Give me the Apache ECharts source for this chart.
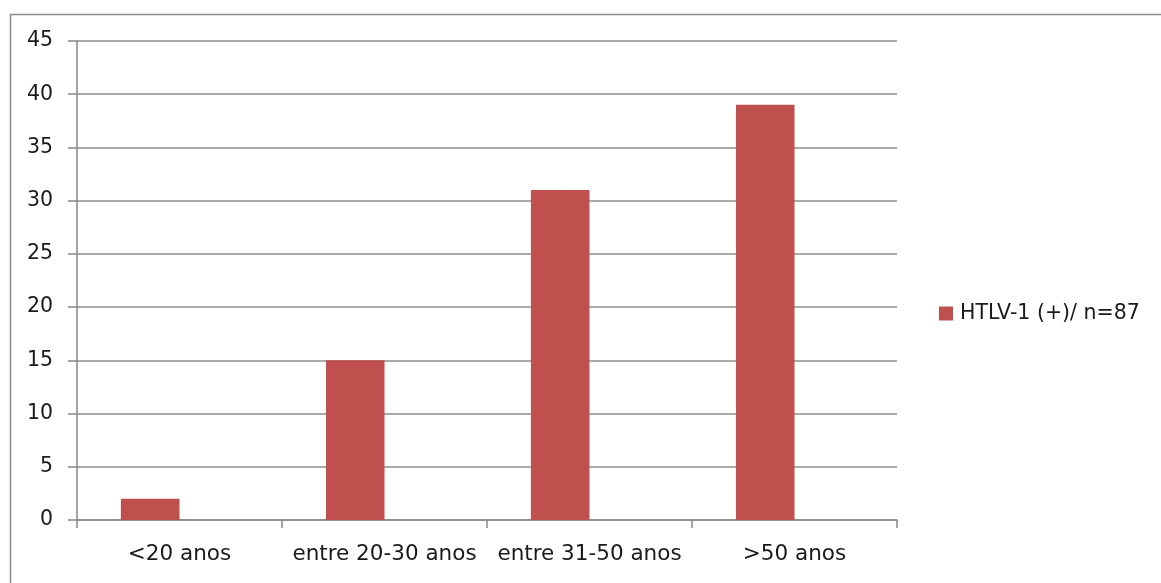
<!DOCTYPE html>
<html>
<head>
<meta charset="utf-8">
<script src="https://cdn.jsdelivr.net/npm/echarts@6/dist/echarts.min.js"></script>
<style>
html,body{margin:0;padding:0;background:#fff;}
#chart{width:1161px;height:583px;}
</style>
</head>
<body>
<div id="chart"></div>
<script>
const categories = ['<20 anos', 'entre 20-30 anos', 'entre 31-50 anos', '>50 anos'];
const seriesName = 'HTLV-1 (+)/ n=87';
const values = [2, 15, 31, 39];
const yTicks = { min: 0, max: 45, interval: 5 };

const chart = echarts.init(document.getElementById('chart'), null, { renderer: 'canvas' });
const font = 'DejaVu Sans';
chart.setOption({
  animation: false,
  backgroundColor: '#ffffff',
  graphic: [{
    type: 'rect',
    left: 8, top: 12,
    shape: { width: 1200, height: 620 },
    style: { fill: 'none', stroke: '#8a8a8a', lineWidth: 1.5 },
    silent: true
  }],
  grid: { left: 77, right: 264, top: 41, bottom: 63, containLabel: false },
  legend: {
    data: [seriesName],
    orient: 'vertical',
    left: 934, top: 298,
    itemWidth: 14, itemHeight: 14, itemGap: 10,
    icon: 'rect',
    textStyle: { fontFamily: font, fontSize: 20.5, color: '#1a1a1a', padding: [0, 0, 0, 2] }
  },
  xAxis: {
    type: 'category',
    data: categories,
    boundaryGap: true,
    axisLine: { show: true, lineStyle: { color: '#868686', width: 1.5 } },
    axisTick: { show: true, length: 8, lineStyle: { color: '#868686', width: 1.5 } },
    axisLabel: { fontFamily: font, fontSize: 21.5, color: '#1a1a1a', margin: 23, interval: 0 },
    splitLine: { show: false }
  },
  yAxis: {
    type: 'value',
    min: yTicks.min, max: yTicks.max, interval: yTicks.interval,
    axisLine: { show: true, lineStyle: { color: '#868686', width: 1.5 } },
    axisTick: { show: true, length: 9, lineStyle: { color: '#868686', width: 1.5 } },
    axisLabel: { fontFamily: font, fontSize: 20.5, color: '#1a1a1a', margin: 24 },
    splitLine: { show: true, lineStyle: { color: '#8c8c8c', width: 1.5 } }
  },
  series: [
    {
      name: seriesName,
      type: 'bar',
      data: values,
      barGap: '0%',
      barCategoryGap: '42.86%',
      itemStyle: { color: '#C0504D' }
    },
    {
      name: 'placeholder',
      type: 'bar',
      data: [],
      barGap: '0%',
      barCategoryGap: '42.86%',
      itemStyle: { color: 'transparent' }
    }
  ]
});
</script>
</body>
</html>
